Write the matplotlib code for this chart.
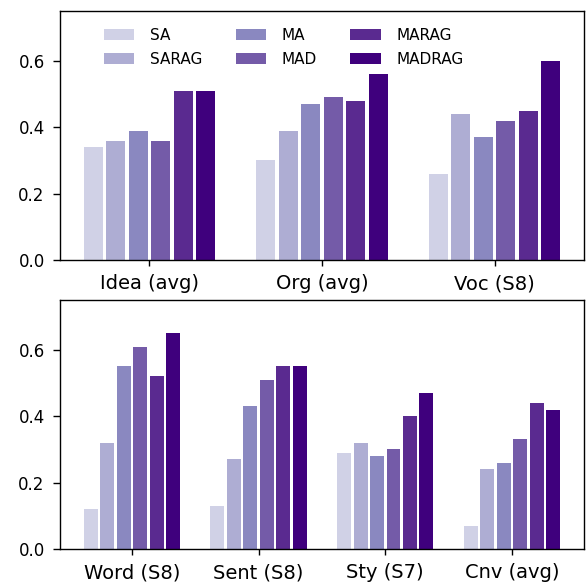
import matplotlib
matplotlib.use("Agg")
import matplotlib.pyplot as plt
import numpy as np

methods = ["SA", "SARAG", "MA", "MAD", "MARAG", "MADRAG"]
colors = ["#d0d1e6", "#aeadd3", "#8a88c0", "#745ba8", "#5a2a90", "#3f007d"]

top_cats = ["Idea (avg)", "Org (avg)", "Voc (S8)"]
top_vals = {
    "SA":     [0.34, 0.30, 0.26],
    "SARAG":  [0.36, 0.39, 0.44],
    "MA":     [0.39, 0.47, 0.37],
    "MAD":    [0.36, 0.49, 0.42],
    "MARAG":  [0.51, 0.48, 0.45],
    "MADRAG": [0.51, 0.56, 0.60],
}

bot_cats = ["Word (S8)", "Sent (S8)", "Sty (S7)", "Cnv (avg)"]
bot_vals = {
    "SA":     [0.12, 0.13, 0.29, 0.07],
    "SARAG":  [0.32, 0.27, 0.32, 0.24],
    "MA":     [0.55, 0.43, 0.28, 0.26],
    "MAD":    [0.61, 0.51, 0.30, 0.33],
    "MARAG":  [0.52, 0.55, 0.40, 0.44],
    "MADRAG": [0.65, 0.55, 0.47, 0.42],
}

fig = plt.figure(figsize=(5.86, 5.83), dpi=100)
ax1 = fig.add_axes([0.1024, 0.554, 0.894, 0.427])
ax2 = fig.add_axes([0.1024, 0.0583, 0.894, 0.427])

step = 0.13
width = 0.11

def draw(ax, cats, vals):
    x = np.arange(len(cats))
    for i, m in enumerate(methods):
        ax.bar(x + (i - 2.5) * step, vals[m], width=width, color=colors[i], label=m)
    ax.set_xticks(x)
    ax.set_xticklabels(cats, fontsize=14)
    ax.set_ylim(0, 0.75)
    ax.set_yticks([0.0, 0.2, 0.4, 0.6])
    ax.set_yticklabels(["0.0", "0.2", "0.4", "0.6"], fontsize=12)
    ax.tick_params(axis="x", length=4.3, width=1.0, pad=6.0)
    ax.tick_params(axis="y", length=5.0, width=1.0, pad=6.0)
    for s in ax.spines.values():
        s.set_linewidth(1.0)

draw(ax1, top_cats, top_vals)
draw(ax2, bot_cats, bot_vals)

ax1.legend(ncol=3, frameon=False, fontsize=11, loc="upper left",
           bbox_to_anchor=(0.072, 0.957), borderaxespad=0, columnspacing=2.2,
           handletextpad=1.0, labelspacing=0.6)

fig.savefig("out.png", dpi=100)
